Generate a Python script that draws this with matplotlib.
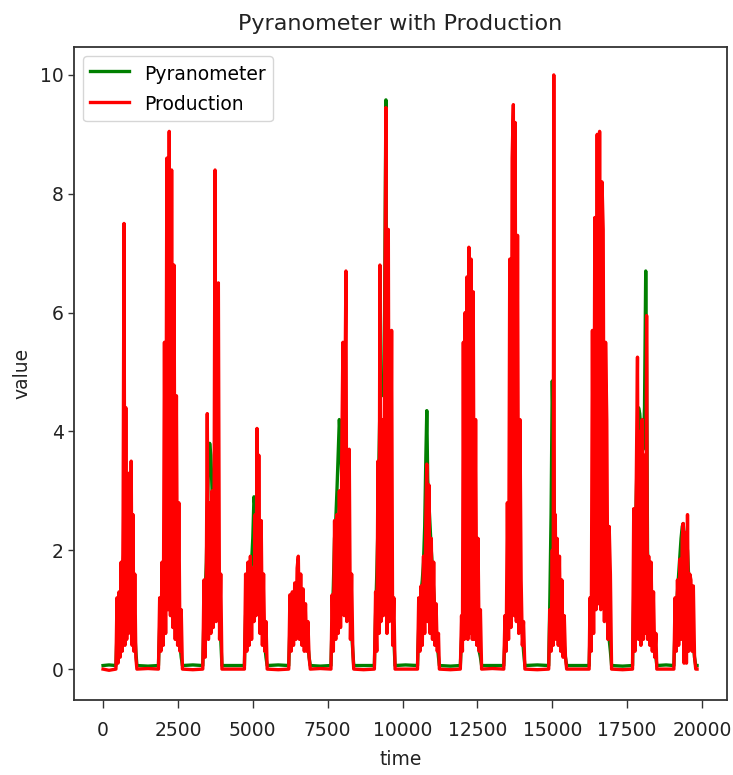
import matplotlib
matplotlib.use("Agg")
import matplotlib.pyplot as plt

plt.rcParams['font.family'] = ['DejaVu Sans']
# keep every reading of the dense daily traces
plt.rcParams['path.simplify'] = False

# Sample index (minutes) and readings, one row per day of sunlight,
# with a few flat night-time readings in between.
time = [
    0, 200,
    430, 465, 500, 535, 570, 605, 640, 670, 700, 730, 760, 790, 820, 850, 880, 910, 940, 970, 1000, 1030, 1060, 1095, 1130,
    1500,
    1850, 1890, 1930, 1970, 2010, 2050, 2090, 2130, 2170, 2210, 2250, 2290, 2330, 2370, 2410, 2450, 2490, 2530, 2570, 2610, 2650,
    3000,
    3330, 3370, 3410, 3450, 3480, 3520, 3560, 3600, 3640, 3680, 3710, 3740, 3775, 3810, 3850, 3890, 3930, 3970,
    4350,
    4720, 4760, 4800, 4840, 4880, 4920, 4960, 5000, 5040, 5080, 5110, 5140, 5170, 5200, 5240, 5280, 5320, 5360, 5400, 5440, 5480,
    5850,
    6200, 6240, 6280, 6320, 6360, 6400, 6440, 6480, 6520, 6560, 6600, 6640, 6680, 6720, 6760, 6800, 6840, 6880, 6920,
    7250,
    7610, 7650, 7690, 7730, 7770, 7810, 7850, 7890, 7930, 7970, 8010, 8050, 8080, 8110, 8140, 8180, 8220, 8260, 8300, 8340, 8370,
    8700,
    9060, 9100, 9140, 9180, 9215, 9245, 9280, 9320, 9360, 9400, 9445, 9480, 9525, 9560, 9600, 9635, 9670, 9710, 9750,
    10100,
    10500, 10540, 10580, 10620, 10660, 10700, 10740, 10780, 10810, 10840, 10880, 10920, 10960, 11000, 11040, 11080, 11120, 11160, 11200, 11230,
    11600,
    11930, 11970, 12000, 12030, 12060, 12090, 12120, 12150, 12180, 12215, 12250, 12290, 12330, 12360, 12400, 12440, 12480, 12520, 12560, 12600, 12640,
    13000,
    13380, 13420, 13460, 13500, 13540, 13580, 13620, 13660, 13700, 13730, 13760, 13800, 13840, 13880, 13920, 13960, 14000, 14040, 14085,
    14500,
    14880, 14920, 14960, 15000, 15030, 15050, 15070, 15100, 15130, 15160, 15200, 15240, 15280, 15320, 15360, 15400, 15440, 15480,
    15850,
    16230, 16260, 16300, 16340, 16380, 16420, 16460, 16500, 16540, 16580, 16620, 16660, 16700, 16740, 16780, 16820, 16860, 16900, 16940, 16980,
    17350,
    17680, 17720, 17760, 17800, 17845, 17880, 17920, 17960, 18000, 18040, 18080, 18120, 18150, 18180, 18220, 18260, 18300, 18340, 18380, 18420, 18460, 18490,
    18800,
    19060, 19100, 19140, 19180, 19220, 19260, 19300, 19340, 19370, 19400, 19440, 19480, 19515, 19550, 19590, 19630, 19670, 19710, 19750, 19790, 19834,
]

pyranometer = [
    0.06, 0.07,
    0.06, 0.6, 0.9, 1.1, 1.2, 1.4, 1.6, 1.8, 2.0, 2.1, 2.0, 1.9, 1.8, 1.9, 2.0, 1.8, 1.7, 1.5, 1.2, 0.9, 0.6, 0.3, 0.06,
    0.05,
    0.06, 0.7, 1.0, 1.2, 1.4, 1.6, 1.7, 1.8, 1.9, 1.9, 1.8, 1.7, 1.6, 1.4, 1.2, 1.0, 0.8, 0.6, 0.4, 0.2, 0.06,
    0.07,
    0.06, 0.9, 1.3, 1.8, 2.6, 3.4, 3.8, 3.6, 3.0, 2.6, 2.4, 2.2, 2.1, 2.0, 1.6, 1.0, 0.5, 0.06,
    0.06,
    0.06, 0.9, 1.2, 1.4, 1.5, 1.6, 1.8, 2.2, 2.9, 2.7, 2.4, 2.2, 2.0, 1.7, 1.4, 1.1, 0.8, 0.6, 0.4, 0.2, 0.06,
    0.07,
    0.06, 0.7, 0.8, 0.9, 1.0, 1.1, 1.2, 1.3, 1.4, 1.3, 1.2, 1.1, 1.0, 0.9, 0.7, 0.5, 0.4, 0.2, 0.06,
    0.05,
    0.06, 0.8, 1.4, 2.2, 2.5, 3.0, 3.6, 4.2, 3.8, 3.2, 2.8, 2.4, 2.0, 1.8, 1.6, 1.4, 1.2, 0.9, 0.6, 0.3, 0.06,
    0.06,
    0.06, 0.9, 1.6, 2.4, 3.6, 4.4, 4.9, 4.9, 4.6, 6.0, 9.58, 3.0, 2.2, 1.6, 1.4, 1.2, 0.9, 0.5, 0.06,
    0.07,
    0.06, 0.7, 1.0, 1.3, 1.5, 1.8, 2.4, 3.6, 4.35, 3.2, 2.8, 2.4, 2.0, 1.7, 1.3, 1.0, 0.7, 0.4, 0.2, 0.06,
    0.05,
    0.06, 0.5, 0.8, 1.0, 1.1, 1.2, 1.3, 1.3, 1.3, 1.3, 1.2, 1.2, 1.1, 1.0, 0.9, 0.8, 0.6, 0.5, 0.3, 0.2, 0.06,
    0.06,
    0.06, 0.5, 0.8, 1.1, 1.3, 1.5, 1.6, 1.7, 1.8, 1.8, 1.7, 1.6, 1.5, 1.3, 1.1, 0.9, 0.6, 0.3, 0.06,
    0.07,
    0.06, 1.2, 2.6, 4.85, 4.0, 3.5, 2.6, 1.8, 1.5, 1.2, 1.0, 0.9, 0.8, 0.6, 0.5, 0.4, 0.2, 0.06,
    0.06,
    0.06, 0.6, 0.9, 1.1, 1.2, 1.3, 1.4, 1.5, 1.6, 1.6, 1.5, 1.4, 1.3, 1.2, 1.0, 0.9, 0.7, 0.5, 0.3, 0.06,
    0.05,
    0.06, 1.3, 2.0, 2.8, 3.8, 4.4, 4.3, 4.0, 3.8, 3.7, 4.4, 6.7, 5.0, 2.0, 1.4, 1.0, 0.8, 0.6, 0.4, 0.3, 0.2, 0.06,
    0.07,
    0.06, 0.7, 1.0, 1.3, 1.6, 1.9, 2.2, 2.4, 2.45, 2.3, 2.2, 2.1, 2.0, 1.6, 1.2, 0.9, 0.6, 0.4, 0.2, 0.06, 0.06,
]

production = [
    0.0, -0.02,
    0.0, 1.2, 0.1, 1.3, 0.2, 1.8, 0.3, 2.6, 7.5, 0.4, 4.4, 0.5, 3.0, 0.6, 3.3, 0.8, 3.5, 0.4, 2.6, 0.3, 1.6, 0.2, 0.0,
    0.01,
    0.0, 1.2, 0.3, 1.8, 0.4, 5.5, 0.6, 8.6, 1.0, 9.05, 0.9, 8.4, 0.7, 6.8, 0.5, 4.6, 0.4, 2.8, 0.3, 1.0, 0.0,
    -0.01,
    0.0, 1.5, 0.2, 1.7, 4.3, 0.5, 2.8, 0.6, 3.0, 0.7, 3.2, 8.4, 0.8, 4.0, 6.5, 0.5, 1.6, 0.0,
    0.0,
    0.0, 1.6, 0.3, 1.8, 0.4, 1.9, 0.5, 1.7, 0.8, 2.6, 0.9, 4.05, 1.0, 3.6, 0.6, 2.5, 0.4, 1.6, 0.3, 0.8, 0.0,
    -0.01,
    0.0, 1.25, 0.3, 1.3, 0.4, 1.45, 0.5, 1.7, 1.9, 0.5, 1.6, 0.4, 1.35, 0.3, 1.1, 0.3, 0.8, 0.2, 0.0,
    0.01,
    0.0, 1.25, 0.3, 2.5, 0.5, 2.6, 0.6, 3.0, 0.7, 3.6, 5.5, 0.9, 4.8, 6.7, 0.8, 3.0, 3.7, 0.5, 1.6, 0.3, 0.0,
    -0.01,
    0.0, 1.3, 0.3, 3.5, 0.6, 6.8, 0.8, 4.2, 0.9, 5.0, 9.45, 0.6, 7.4, 0.8, 2.0, 5.7, 0.4, 1.2, 0.0,
    0.0,
    0.0, 1.2, 0.3, 1.4, 0.4, 1.9, 0.6, 2.6, 3.45, 0.8, 3.1, 0.6, 2.2, 0.5, 1.8, 0.4, 1.1, 0.3, 0.6, 0.0,
    -0.01,
    0.0, 0.9, 0.3, 5.5, 0.5, 6.0, 0.6, 6.6, 0.5, 7.1, 0.6, 6.9, 0.5, 6.35, 0.5, 4.2, 0.4, 2.2, 0.3, 1.0, 0.0,
    0.01,
    0.0, 0.9, 0.3, 2.8, 0.5, 6.9, 0.7, 8.6, 9.5, 0.9, 9.2, 0.8, 7.3, 0.6, 4.2, 1.5, 0.4, 0.8, 0.0,
    -0.01,
    0.0, 1.0, 0.3, 2.0, 0.4, 10.0, 0.8, 2.6, 0.5, 2.2, 0.4, 1.9, 0.3, 1.5, 0.2, 0.9, 0.2, 0.0,
    0.0,
    0.0, 1.2, 0.3, 5.7, 0.6, 7.6, 1.0, 9.0, 1.1, 9.05, 1.0, 8.2, 7.4, 0.8, 5.5, 4.2, 0.5, 2.4, 1.6, 0.0,
    -0.01,
    0.0, 2.7, 0.3, 2.9, 5.25, 0.5, 4.0, 0.4, 4.2, 0.5, 3.6, 0.6, 5.95, 0.5, 1.9, 0.4, 1.8, 0.3, 1.3, 0.2, 0.6, 0.0,
    0.0,
    0.0, 1.2, 0.3, 1.5, 0.4, 1.85, 0.5, 2.2, 2.45, 0.1, 2.3, 0.1, 2.6, 0.3, 1.6, 1.5, 0.3, 1.4, 0.2, 0.0, 0.0,
]

x_ticks = [0, 2500, 5000, 7500, 10000, 12500, 15000, 17500, 20000]
y_ticks = [0, 2, 4, 6, 8, 10]

fig = plt.figure(figsize=(7.33, 7.75), dpi=100)
ax = fig.add_axes([74 / 733, 75 / 775, 653 / 733, 653 / 775])

ax.plot(time, pyranometer, color='green', linewidth=2.4, label='Pyranometer')
ax.plot(time, production, color='red', linewidth=2.4, label='Production')

ax.set_xlim(-970, 20834)
ax.set_ylim(-0.52, 10.47)
ax.set_xticks(x_ticks)
ax.set_yticks(y_ticks)
ax.tick_params(axis='both', labelsize=13.5, colors='#333333', labelcolor='#222222')
ax.tick_params(axis='x', length=5.8, width=1.0, pad=9.5)
ax.tick_params(axis='y', length=4.3, width=1.0, pad=3)
for spine in ax.spines.values():
    spine.set_linewidth(1.3)
    spine.set_color('#333333')

ax.set_title('Pyranometer with Production', fontsize=16, pad=12, color='#222222')
ax.set_xlabel('time', fontsize=13.5, labelpad=7, color='#222222')
ax.set_ylabel('value', fontsize=13.5, labelpad=6, color='#222222')
ax.legend(loc='upper left', fontsize=13.5, handlelength=2.1, handleheight=1.4,
          labelspacing=0.45, borderpad=0.35, handletextpad=0.8)

fig.savefig('out.png', dpi=100)
